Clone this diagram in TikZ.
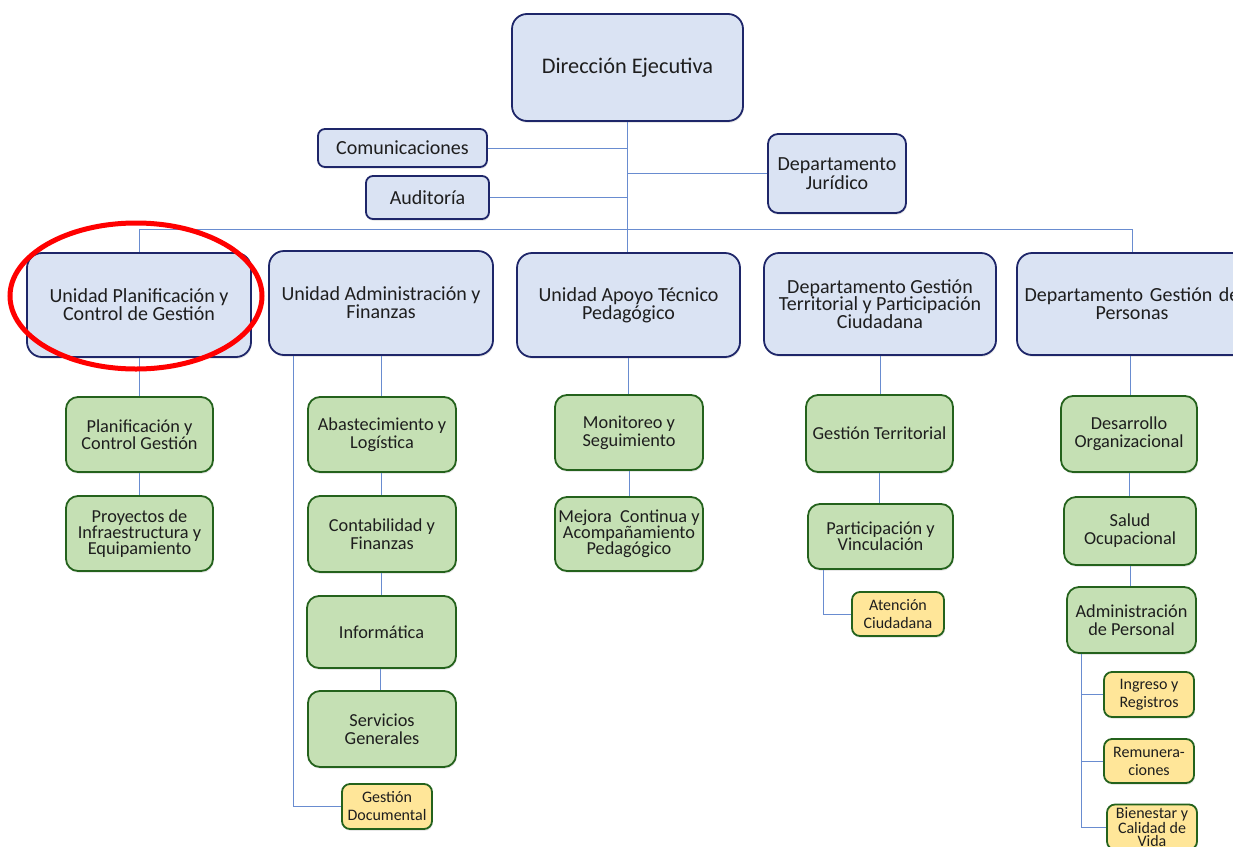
\documentclass[tikz,border=0pt]{standalone}
\usepackage{fontspec}
\setmainfont{Carlito}
\usetikzlibrary{shadows}
\definecolor{bfill}{HTML}{DAE3F3}
\definecolor{bdraw}{RGB}{30,38,105}
\definecolor{gfill}{HTML}{C5E0B4}
\definecolor{gdraw}{RGB}{36,98,28}
\definecolor{yfill}{HTML}{FFE699}
\definecolor{conncol}{RGB}{105,140,208}
\definecolor{txt}{RGB}{30,30,30}
\tikzset{
  base/.style={rectangle, rounded corners=12pt, line width=1.8pt, align=center, text=txt, inner sep=1pt,
     drop shadow={shadow xshift=0.8pt, shadow yshift=-1.8pt, opacity=0.18}},
  bluebox/.style={base, fill=bfill, draw=bdraw, rounded corners=15pt},
  greenbox/.style={base, fill=gfill, draw=gdraw},
  yellowbox/.style={base, fill=yfill, draw=gdraw, rounded corners=8pt},
  conn/.style={draw=conncol, line width=1pt},
  fbig/.style={font=\fontsize{22.3}{24}\selectfont},
  fmid/.style={font=\fontsize{20}{18}\selectfont},
  fgr/.style={font=\fontsize{18.3}{18}\selectfont},
  fgrt/.style={font=\fontsize{18.3}{16}\selectfont},
  fye/.style={font=\fontsize{16}{18}\selectfont},
}
\begin{document}
\begin{tikzpicture}[x=1pt,y=-1pt]
\clip (0,0) rectangle (1233,846);
\fill[white] (0,0) rectangle (1233,846);
% top level
\node[bluebox, fbig, minimum width=231pt, minimum height=107pt] (dir) at (627.5,67.5) {Dirección Ejecutiva};
\node[bluebox, fmid, rounded corners=7pt, minimum width=169pt, minimum height=38pt] (com) at (402.5,148) {Comunicaciones};
\node[bluebox, fmid, rounded corners=7pt, minimum width=123pt, minimum height=43pt] (aud) at (427.5,197.5) {Auditoría};
\node[bluebox, font=\fontsize{20}{19}\selectfont, rounded corners=10pt, minimum width=138pt, minimum height=79pt] (jur) at (837,173.5) {Departamento\\Jurídico};
% second level
\node[bluebox, font=\fontsize{20}{17}\selectfont, minimum width=224pt, minimum height=104pt] (plan) at (139,305) {Unidad Planificación y\\Control de Gestión};
\node[bluebox, fmid, minimum width=224pt, minimum height=104pt] (adm) at (381,303) {Unidad Administración y\\Finanzas};
\node[bluebox, fmid, minimum width=223pt, minimum height=104pt] (apo) at (628.5,305) {Unidad Apoyo Técnico\\Pedagógico};
\node[bluebox, font=\fontsize{20}{17.5}\selectfont, minimum width=232pt, minimum height=102pt] (ter) at (880,304) {Departamento Gestión\\Territorial y Participación\\Ciudadana};
\node[bluebox, fmid, minimum width=230pt, minimum height=102pt, text width=220pt] (per) at (1132,304) {\mbox{Departamento Gestión de}\\Personas};
% column 1
\node[greenbox, font=\fontsize{18.3}{15}\selectfont, minimum width=147pt, minimum height=75pt] (g11) at (139.5,434.5) {Planificación y\\Control Gestión};
\node[greenbox, fgrt, minimum width=147pt, minimum height=75pt] (g12) at (139.5,533.5) {Proyectos de\\Infraestructura y\\Equipamiento};
% column 2
\node[greenbox, fgr, minimum width=148pt, minimum height=75pt] (g21) at (382,434.5) {Abastecimiento y\\Logística};
\node[greenbox, fgr, minimum width=148pt, minimum height=76pt] (g22) at (382,534) {Contabilidad y\\Finanzas};
\node[greenbox, fgr, minimum width=149pt, minimum height=72pt] (g23) at (381.5,632) {Informática};
\node[greenbox, fgr, minimum width=148pt, minimum height=76pt] (g24) at (382,729) {Servicios\\Generales};
\node[yellowbox, fye, minimum width=90pt, minimum height=45pt] (y2) at (387,806.5) {Gestión\\Documental};
% column 3
\node[greenbox, fgr, minimum width=148pt, minimum height=75pt] (g31) at (629,432.5) {Monitoreo y\\Seguimiento};
\node[greenbox, fgrt, minimum width=148pt, minimum height=74pt] (g32) at (629,534) {Mejora\ \ Continua y\\Acompañamiento\\Pedagógico};
% column 4
\node[greenbox, fgr, minimum width=147pt, minimum height=77pt] (g41) at (879.5,433.5) {Gestión Territorial};
\node[greenbox, fgrt, minimum width=145pt, minimum height=65pt] (g42) at (880.5,536.5) {Participación y\\Vinculación};
\node[yellowbox, fye, minimum width=92pt, minimum height=44pt] (y4) at (898,614) {Atención\\Ciudadana};
% column 5
\node[greenbox, fgr, minimum width=136pt, minimum height=76pt] (g51) at (1129,434) {Desarrollo\\Organizacional};
\node[greenbox, fgr, minimum width=132pt, minimum height=68pt] (g52) at (1130,531) {Salud\\Ocupacional};
\node[greenbox, fgr, minimum width=129pt, minimum height=66pt] (g53) at (1131.5,620) {Administración\\de Personal};
\node[yellowbox, fye, minimum width=90pt, minimum height=45pt] (y51) at (1149,694.5) {Ingreso y\\Registros};
\node[yellowbox, fye, minimum width=90pt, minimum height=44pt] (y52) at (1149,761) {Remunera-\\ciones};
\node[yellowbox, font=\fontsize{16}{13.5}\selectfont, minimum width=90pt, minimum height=45pt, inner sep=0pt] (y53) at (1152,827) {Bienestar y\\Calidad de\\Vida};
% helper coordinates
\coordinate (bus) at (0,229);
\coordinate (lx2) at (293,0);
\coordinate (lx4) at (823,0);
\coordinate (lx5) at (1081,0);
% connectors
\draw[conn] (dir.south) -- (dir.south |- apo.north);
\draw[conn] (com.east) -- (com.east -| dir.south);
\draw[conn] (aud.east) -- (aud.east -| dir.south);
\draw[conn] (jur.west) -- (jur.west -| dir.south);
\draw[conn] (plan.north) |- (per.north |- bus) -- (per.north);
\draw[conn] (plan.south) -- (plan.south |- g11.north);
\draw[conn] (g11.south) -- (g11.south |- g12.north);
\draw[conn] ([xshift=-1pt]g21.north |- adm.south) -- ([xshift=-1pt]g21.north);
\draw[conn] ([xshift=-1pt]g21.south) -- ([xshift=-1pt]g22.north);
\draw[conn] ([xshift=-1pt]g22.south) -- ([xshift=-1pt]g22.south |- g23.north);
\draw[conn] ([xshift=-1pt]g23.south |- g23.south) -- ([xshift=-1pt]g23.south |- g24.north);
\draw[conn] (y2.west) -| (lx2 |- adm.south);
\draw[conn] (apo.south) -- (apo.south |- g31.north);
\draw[conn] (g31.south) -- (g31.south |- g32.north);
\draw[conn] (ter.south) -- (ter.south |- g41.north);
\draw[conn] (g41.south) -- (g41.south |- g42.north);
\draw[conn] (y4.west) -| (lx4 |- g42.south);
\draw[conn] ([xshift=-2pt]per.south) -- ([xshift=-2pt]per.south |- g51.north);
\draw[conn] (g51.south) -- (g51.south |- g52.north);
\draw[conn] (g52.south) -- (g52.south |- g53.north);
\draw[conn] (y51.west) -- (y51.west -| lx5);
\draw[conn] (y52.west) -- (y52.west -| lx5);
\draw[conn] (y53.west) -| (lx5 |- g53.south);
% highlight
\draw[red, line width=5pt] (136,296) ellipse [x radius=126pt, y radius=73pt];
\end{tikzpicture}
\end{document}
